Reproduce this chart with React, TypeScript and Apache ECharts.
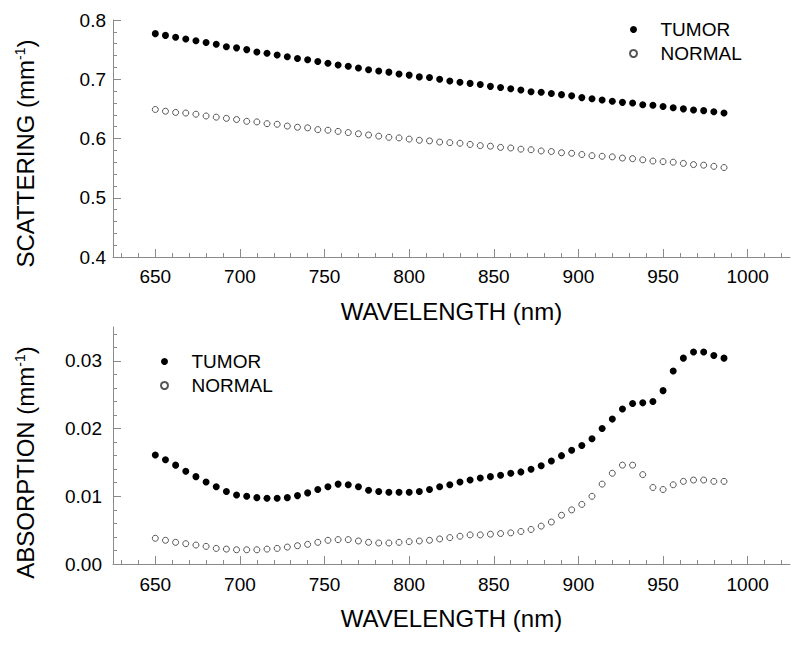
import React, { useEffect, useRef } from "react";
import * as echarts from "echarts";

const FONT = "'Liberation Sans', Arial, Helvetica, sans-serif";

// wavelength samples (nm)
const wavelengths = [
  650, 656, 662, 668, 674, 680, 686, 692, 698, 704, 710, 716, 722, 728, 734, 740, 746, 752, 758, 764,
  770, 776, 782, 788, 794, 800, 806, 812, 818, 824, 830, 836, 842, 848, 854, 860, 866, 872, 878, 884,
  890, 896, 902, 908, 914, 920, 926, 932, 938, 944, 950, 956, 962, 968, 974, 980, 986,
];

// scattering (mm^-1)
const scatTumor = [
  0.777, 0.774, 0.771, 0.768, 0.765, 0.762, 0.759, 0.755, 0.753, 0.75, 0.746, 0.744, 0.741, 0.738, 0.735,
  0.733, 0.73, 0.727, 0.724, 0.722, 0.719, 0.716, 0.714, 0.712, 0.709, 0.707, 0.704, 0.703, 0.7, 0.697,
  0.695, 0.693, 0.691, 0.688, 0.686, 0.684, 0.682, 0.679, 0.678, 0.676, 0.674, 0.672, 0.669, 0.667, 0.665,
  0.663, 0.661, 0.66, 0.657, 0.656, 0.654, 0.652, 0.65, 0.648, 0.647, 0.645, 0.643,
];
const scatNormal = [
  0.649, 0.646, 0.644, 0.643, 0.641, 0.638, 0.636, 0.634, 0.632, 0.629, 0.628, 0.625, 0.624, 0.621, 0.619,
  0.618, 0.615, 0.614, 0.612, 0.61, 0.608, 0.606, 0.604, 0.602, 0.601, 0.599, 0.597, 0.596, 0.594, 0.593,
  0.592, 0.59, 0.588, 0.587, 0.585, 0.584, 0.582, 0.581, 0.579, 0.578, 0.576, 0.575, 0.573, 0.571, 0.57,
  0.569, 0.567, 0.566, 0.564, 0.562, 0.561, 0.56, 0.558, 0.556, 0.555, 0.553, 0.551,
];

// absorption (mm^-1)
const absTumor = [
  0.0161, 0.0154, 0.0146, 0.0137, 0.0129, 0.0121, 0.0114, 0.0107, 0.0102, 0.01, 0.0098, 0.0097, 0.0097,
  0.0098, 0.0101, 0.0105, 0.011, 0.0114, 0.0118, 0.0117, 0.0114, 0.0109, 0.0107, 0.0106, 0.0106, 0.0106,
  0.0107, 0.011, 0.0114, 0.0117, 0.0121, 0.0124, 0.0127, 0.0129, 0.0131, 0.0134, 0.0136, 0.014, 0.0145,
  0.0152, 0.016, 0.0168, 0.0175, 0.0185, 0.02, 0.0214, 0.0229, 0.0237, 0.0238, 0.024, 0.0256, 0.0285,
  0.0304, 0.0313, 0.0313, 0.0308, 0.0304,
];
const absNormal = [
  0.0038, 0.0035, 0.0032, 0.003, 0.0028, 0.0026, 0.0023, 0.0022, 0.0021, 0.0021, 0.0021, 0.0022, 0.0023,
  0.0025, 0.0027, 0.0029, 0.0032, 0.0035, 0.0036, 0.0036, 0.0034, 0.0032, 0.0031, 0.0031, 0.0032, 0.0033,
  0.0034, 0.0035, 0.0037, 0.0039, 0.0041, 0.0043, 0.0043, 0.0044, 0.0045, 0.0046, 0.0048, 0.0051, 0.0056,
  0.0062, 0.0072, 0.008, 0.0088, 0.01, 0.0118, 0.0134, 0.0146, 0.0146, 0.0132, 0.0113, 0.011, 0.0117,
  0.0122, 0.0124, 0.0124, 0.0122, 0.0122,
];

// tick values
const xMajorTicks = [650, 700, 750, 800, 850, 900, 950, 1000];
const xMinorTicks = Array.from({ length: 40 }, (_, i) => 630 + i * 10);
const scatMajorTicks = [0.4, 0.5, 0.6, 0.7, 0.8];
const scatMinorTicks = Array.from({ length: 19 }, (_, i) => Math.round((0.42 + i * 0.02) * 1000) / 1000);
const absMajorTicks = [0, 0.01, 0.02, 0.03];
const absMinorTicks = Array.from({ length: 17 }, (_, i) => Math.round((0.002 + i * 0.002) * 10000) / 10000);

const seriesNames = ["TUMOR", "NORMAL"];

const AXIS_COLOR = "#8a8a8a";

function pairs(vals: number[]) {
  return wavelengths.map((w, i) => [w, vals[i]]);
}

function xAxes(grid: number, labelMargin: number) {
  return [
    {
      gridIndex: grid,
      type: "value",
      min: 625,
      max: 1025,
      position: "bottom",
      axisLine: { show: true, lineStyle: { color: AXIS_COLOR, width: 1 } },
      axisTick: { show: true, inside: true, length: 8, customValues: xMajorTicks, lineStyle: { color: AXIS_COLOR } },
      axisLabel: {
        show: true,
        customValues: xMajorTicks,
        margin: labelMargin,
        fontSize: 19,
        color: "#000",
        fontFamily: FONT,
        formatter: (v: number) => String(v),
      },
      splitLine: { show: false },
      name: "WAVELENGTH (nm)",
      nameLocation: "middle",
      nameGap: 42,
      nameTextStyle: { fontSize: 24, color: "#000", fontFamily: FONT },
    },
    {
      gridIndex: grid,
      type: "value",
      min: 625,
      max: 1025,
      position: "bottom",
      axisLine: { show: false },
      axisTick: { show: true, inside: true, length: 4, customValues: xMinorTicks, lineStyle: { color: AXIS_COLOR } },
      axisLabel: { show: false },
      splitLine: { show: false },
    },
  ];
}

function yAxes(
  grid: number,
  min: number,
  max: number,
  major: number[],
  minor: number[],
  digits: number,
  title: string,
  shift: number,
  labelMargin: number
) {
  return [
    {
      gridIndex: grid,
      type: "value",
      min,
      max,
      position: "left",
      axisLine: { show: true, lineStyle: { color: AXIS_COLOR, width: 1 } },
      axisTick: { show: true, inside: true, length: 8, customValues: major, lineStyle: { color: AXIS_COLOR } },
      axisLabel: {
        show: true,
        customValues: major,
        margin: labelMargin,
        fontSize: 19,
        color: "#000",
        fontFamily: FONT,
        formatter: (v: number) => v.toFixed(digits),
      },
      splitLine: { show: false },
      name: `{t|${title} (mm}{s|-1}{t|)}`,
      nameLocation: "middle",
      nameGap: 76,
      nameTextStyle: {
        padding: [0, shift, 0, 0],
        rich: {
          t: { fontSize: 24, color: "#000", fontFamily: FONT },
          s: { fontSize: 14, color: "#000", fontFamily: FONT, verticalAlign: "top" },
        },
      },
    },
    {
      gridIndex: grid,
      type: "value",
      min,
      max,
      position: "left",
      axisLine: { show: false },
      axisTick: { show: true, inside: true, length: 4, customValues: minor, lineStyle: { color: AXIS_COLOR } },
      axisLabel: { show: false },
      splitLine: { show: false },
    },
  ];
}

function seriesPair(xIdx: number, yIdx: number, tumor: number[], normal: number[]) {
  return [
    {
      type: "scatter",
      name: seriesNames[0],
      xAxisIndex: xIdx,
      yAxisIndex: yIdx,
      symbol: "circle",
      symbolSize: 7,
      itemStyle: { color: "#000", opacity: 1 },
      data: pairs(tumor),
    },
    {
      type: "scatter",
      name: seriesNames[1],
      xAxisIndex: xIdx,
      yAxisIndex: yIdx,
      symbol: "circle",
      symbolSize: 6,
      itemStyle: { color: "#fff", borderColor: "#555", borderWidth: 1, opacity: 1 },
      data: pairs(normal),
    },
  ];
}

function legend(left: number, top: number) {
  return {
    data: seriesNames,
    orient: "vertical",
    left,
    top,
    icon: "circle",
    itemWidth: 44,
    itemHeight: 7,
    itemGap: 5,
    selectedMode: false,
    itemStyle: { opacity: 1 },
    textStyle: { fontSize: 19, color: "#000", fontFamily: FONT },
  };
}

export default function App() {
  const ref = useRef<HTMLDivElement>(null);
  useEffect(() => {
    if (!ref.current) return;
    const chart = echarts.init(ref.current, null, { renderer: "svg" });
    const option: any = {
      animation: false,
      backgroundColor: "#fff",
      grid: [
        { left: 113, top: 20, width: 677, height: 237, outerBoundsMode: "none" },
        { left: 113, top: 327, width: 677, height: 237, outerBoundsMode: "none" },
      ],
      legend: [legend(624, 15), legend(155, 347)],
      xAxis: [...xAxes(0, 10), ...xAxes(1, 11)],
      yAxis: [
        ...yAxes(0, 0.4, 0.8, scatMajorTicks, scatMinorTicks, 1, "SCATTERING", 30, 7),
        ...yAxes(1, 0, 0.035, absMajorTicks, absMinorTicks, 2, "ABSORPTION", 34, 11),
      ],
      series: [...seriesPair(0, 0, scatTumor, scatNormal), ...seriesPair(2, 2, absTumor, absNormal)],
    };
    chart.setOption(option);
    return () => chart.dispose();
  }, []);
  return (
    <div
      ref={ref}
      style={{ position: "fixed", left: 0, top: 0, width: 800, height: 655, background: "#fff" }}
    />
  );
}
